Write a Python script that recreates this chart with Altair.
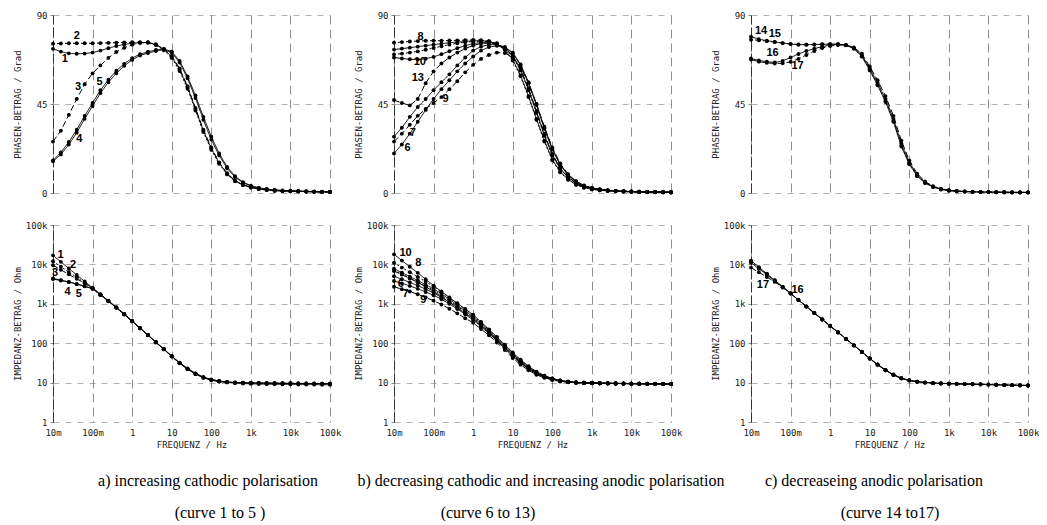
import altair as alt
import pandas as pd

FREQ = [0.01, 0.0158, 0.0251, 0.0398, 0.0631,
        0.1, 0.158, 0.251, 0.398, 0.631,
        1, 1.58, 2.51, 3.98, 6.31,
        10, 15.8, 25.1, 39.8, 63.1,
        100, 158, 251, 398, 631,
        1000, 1580, 2510, 3980, 6310,
        10000, 15800, 25100, 39800, 63100,
        100000]

# ---------- phase (degrees) ----------
PHASE_1 = [72.9, 71.5, 70.6, 70.4, 70.5, 71.0, 72.0, 73.2, 74.3, 75.1, 75.7, 76.0, 76.1, 75.0, 72.6,
           69.0, 62.5, 53.5, 42.5, 31.5, 22.5, 15.2, 9.7, 6.1, 4.1, 2.8, 2.0, 1.5, 1.2, 1.0,
           0.9, 0.8, 0.7, 0.6, 0.5, 0.5]
PHASE_2 = [75.5, 75.6, 75.7, 75.7, 75.7, 75.7, 75.8, 75.9, 76.0, 76.1, 76.2, 76.2, 76.0, 74.8, 72.2,
           68.3, 61.7, 52.7, 41.7, 30.8, 21.8, 14.8, 9.4, 5.9, 4.0, 2.8, 2.0, 1.5, 1.2, 1.0,
           0.9, 0.8, 0.7, 0.6, 0.5, 0.5]
PHASE_3 = [26.0, 31.5, 39.5, 47.5, 55.0, 60.5, 64.5, 68.3, 71.3, 73.4, 75.0, 75.9, 76.2, 75.2, 72.8,
           69.3, 63.0, 54.0, 43.0, 32.0, 23.0, 15.5, 10.0, 6.3, 4.2, 2.9, 2.1, 1.6, 1.2, 1.0,
           0.9, 0.8, 0.7, 0.6, 0.5, 0.5]
PHASE_4 = [16.0, 19.5, 24.5, 30.5, 37.5, 44.0, 50.5, 56.0, 60.5, 64.3, 67.3, 69.5, 70.8, 71.8, 72.5,
           71.0, 66.0, 58.0, 48.0, 37.0, 27.0, 19.0, 12.5, 8.0, 5.2, 3.5, 2.5, 1.9, 1.5, 1.2,
           1.0, 0.9, 0.8, 0.7, 0.6, 0.5]
PHASE_5 = [16.5, 20.5, 25.8, 32.0, 39.0, 45.5, 52.0, 57.3, 61.8, 65.3, 68.2, 70.2, 71.4, 72.3, 72.8,
           71.5, 66.8, 59.0, 49.3, 38.5, 28.5, 20.0, 13.2, 8.5, 5.5, 3.7, 2.6, 2.0, 1.6, 1.3,
           1.1, 1.0, 0.9, 0.8, 0.7, 0.6]
PHASE_6 = [20.0, 24.5, 30.0, 36.0, 42.0, 47.5, 52.5, 57.0, 61.5, 65.5, 69.0, 72.0, 73.8, 74.4, 73.5,
           70.7, 64.5, 55.5, 44.5, 32.5, 22.0, 14.2, 9.0, 5.7, 3.6, 2.45, 1.8, 1.35, 1.1, 0.9,
           0.75, 0.65, 0.55, 0.5, 0.45, 0.4]
PHASE_7 = [28.5, 33.0, 38.5, 43.5, 47.5, 52.0, 56.0, 60.0, 64.5, 68.5, 72.0, 74.0, 75.0, 75.0, 73.8,
           71.0, 65.0, 56.0, 45.0, 33.0, 22.5, 14.5, 9.2, 5.8, 3.7, 2.5, 1.8, 1.35, 1.1, 0.9,
           0.75, 0.65, 0.55, 0.5, 0.45, 0.4]
PHASE_8 = [76.0, 76.3, 76.6, 76.8, 77.0, 77.0, 77.0, 77.1, 77.2, 77.3, 77.4, 77.3, 76.8, 75.5, 72.5,
           67.0, 59.0, 48.5, 37.0, 26.0, 16.5, 10.5, 6.7, 4.2, 2.7, 1.9, 1.4, 1.1, 0.9, 0.7,
           0.6, 0.5, 0.45, 0.4, 0.35, 0.3]
PHASE_9 = [26.0, 30.0, 34.5, 39.0, 42.5, 45.5, 48.5, 52.5, 56.5, 61.0, 64.8, 67.8, 69.8, 71.0, 70.8,
           68.5, 63.5, 55.5, 45.0, 33.5, 23.0, 15.0, 9.5, 6.0, 3.8, 2.6, 1.9, 1.4, 1.1, 0.9,
           0.75, 0.65, 0.55, 0.5, 0.45, 0.4]
PHASE_10 = [68.5, 68.0, 67.6, 67.5, 67.9, 68.8, 70.2, 71.7, 73.2, 74.5, 75.5, 76.1, 76.1, 75.4, 73.2,
            69.2, 62.3, 52.3, 40.8, 29.3, 19.2, 12.4, 7.9, 5.0, 3.2, 2.2, 1.6, 1.2, 1.0, 0.8,
            0.7, 0.6, 0.5, 0.45, 0.4, 0.35]
PHASE_11 = [72.5, 73.0, 73.5, 74.0, 74.5, 75.0, 75.5, 76.0, 76.3, 76.6, 76.9, 77.0, 76.6, 75.3, 72.5,
            67.5, 59.5, 49.0, 37.5, 26.5, 17.0, 10.8, 6.9, 4.3, 2.8, 1.9, 1.4, 1.1, 0.9, 0.7,
            0.6, 0.5, 0.45, 0.4, 0.35, 0.3]
PHASE_12 = [70.0, 70.5, 71.0, 71.6, 72.4, 73.3, 74.2, 75.0, 75.7, 76.2, 76.6, 76.8, 76.6, 75.7, 73.2,
            69.0, 62.0, 52.0, 40.5, 29.0, 19.0, 12.3, 7.8, 4.9, 3.2, 2.2, 1.6, 1.2, 1.0, 0.8,
            0.7, 0.6, 0.5, 0.45, 0.4, 0.35]
PHASE_13 = [47.0, 45.5, 44.3, 47.5, 55.5, 61.5, 65.5, 68.5, 71.0, 73.0, 74.6, 75.6, 75.8, 75.2, 73.3,
            69.5, 62.8, 53.0, 41.5, 30.0, 19.8, 12.8, 8.1, 5.1, 3.3, 2.2, 1.6, 1.2, 1.0, 0.8,
            0.7, 0.6, 0.5, 0.45, 0.4, 0.35]
PHASE_14 = [79.0, 77.8, 77.0, 76.4, 75.8, 75.3, 75.0, 75.0, 75.1, 75.2, 75.3, 75.3, 74.8, 73.0, 69.0,
            62.0, 54.5, 46.0, 36.0, 23.5, 14.5, 8.5, 5.0, 3.0, 1.8, 1.2, 0.9, 0.7, 0.6, 0.5,
            0.45, 0.4, 0.35, 0.3, 0.3, 0.3]
PHASE_15 = [77.5, 77.2, 76.8, 76.3, 75.8, 75.4, 75.1, 75.0, 75.0, 75.1, 75.2, 75.2, 74.7, 73.0, 69.2,
            62.5, 55.0, 46.5, 36.5, 24.0, 15.0, 8.8, 5.2, 3.1, 1.9, 1.25, 0.9, 0.7, 0.6, 0.5,
            0.45, 0.4, 0.35, 0.3, 0.3, 0.3]
PHASE_16 = [68.0, 67.0, 66.4, 66.0, 66.8, 68.5, 70.3, 71.8, 73.0, 74.0, 74.8, 75.1, 74.8, 73.3, 69.8,
            63.0, 55.8, 47.5, 37.5, 25.0, 15.5, 9.2, 5.4, 3.2, 2.0, 1.3, 0.95, 0.75, 0.6, 0.5,
            0.45, 0.4, 0.35, 0.3, 0.3, 0.3]
PHASE_17 = [67.5, 66.4, 65.8, 65.5, 65.6, 66.3, 67.8, 69.8, 71.8, 73.3, 74.3, 74.8, 74.8, 73.6, 70.5,
            64.0, 57.0, 49.0, 39.0, 26.5, 16.5, 9.8, 5.8, 3.4, 2.1, 1.4, 1.0, 0.8, 0.65, 0.55,
            0.5, 0.45, 0.4, 0.35, 0.3, 0.3]

# ---------- impedance magnitude (Ohm) ----------
Z_1 = [17000, 11600, 7900, 5400, 3700, 2550, 1750, 1200, 820, 555, 370, 245, 163, 107, 71,
       47, 31.5, 22.3, 16.7, 13.4, 11.6, 10.6, 10.1, 9.7, 9.5, 9.3, 9.2, 9.1, 9.05, 9.0,
       9.0, 8.95, 8.9, 8.9, 8.85, 8.8]
Z_2 = [12000, 8800, 6400, 4700, 3420, 2500, 1720, 1180, 810, 545, 362, 242, 161, 106, 70.5,
       46.3, 31.2, 22.1, 16.6, 13.4, 11.7, 10.8, 10.3, 10.0, 9.9, 9.8, 9.75, 9.7, 9.65, 9.6,
       9.6, 9.55, 9.5, 9.5, 9.45, 9.4]
Z_3 = [9500, 7300, 5600, 4300, 3300, 2500, 1700, 1170, 800, 540, 360, 240, 160, 105, 70,
       46, 31, 22, 16.5, 13.3, 11.6, 10.7, 10.2, 9.9, 9.8, 9.7, 9.65, 9.6, 9.55, 9.5,
       9.5, 9.45, 9.4, 9.4, 9.35, 9.3]
Z_4 = [4400, 4000, 3600, 3200, 2800, 2400, 1680, 1160, 790, 535, 357, 238, 159, 105, 70,
       46.5, 31.5, 22.5, 17.0, 13.7, 11.9, 10.9, 10.3, 10.0, 9.85, 9.75, 9.7, 9.65, 9.6, 9.55,
       9.5, 9.5, 9.45, 9.4, 9.4, 9.35]
Z_5 = [4250, 3900, 3550, 3150, 2780, 2420, 1690, 1170, 800, 540, 360, 240, 160, 106, 71,
       47, 32, 23, 17.2, 13.8, 12.0, 11.0, 10.4, 10.05, 9.9, 9.8, 9.75, 9.7, 9.65, 9.6,
       9.55, 9.5, 9.5, 9.45, 9.4, 9.4]
Z_6 = [5000, 4200, 3500, 2900, 2350, 1900, 1450, 1100, 800, 580, 420, 285, 190, 123, 78,
       49, 32.5, 23, 17.3, 14, 12.2, 11, 10.4, 10, 9.85, 9.7, 9.6, 9.55, 9.5, 9.45,
       9.4, 9.35, 9.3, 9.3, 9.25, 9.2]
Z_7 = [3800, 3300, 2850, 2400, 2000, 1650, 1300, 1000, 740, 540, 390, 265, 176, 114, 73,
       46, 31, 22, 16.8, 13.7, 12.0, 10.9, 10.3, 9.95, 9.8, 9.7, 9.6, 9.55, 9.5, 9.45,
       9.4, 9.35, 9.3, 9.3, 9.25, 9.2]
Z_8 = [11000, 8300, 6300, 4800, 3650, 2750, 2000, 1420, 1010, 720, 510, 335, 218, 140, 89,
       56, 37, 25.5, 18.7, 14.8, 12.7, 11.3, 10.5, 10.1, 9.9, 9.75, 9.65, 9.6, 9.55, 9.5,
       9.45, 9.4, 9.35, 9.3, 9.3, 9.25]
Z_9 = [2700, 2350, 2050, 1750, 1450, 1200, 960, 750, 570, 430, 330, 230, 158, 104, 67,
       42, 28.5, 20.5, 15.8, 13.2, 11.7, 10.7, 10.2, 9.9, 9.75, 9.65, 9.6, 9.55, 9.5, 9.45,
       9.4, 9.35, 9.3, 9.3, 9.25, 9.2]
Z_10 = [18000, 12500, 8700, 6100, 4200, 2900, 2050, 1450, 1030, 740, 530, 345, 225, 145, 92,
        58, 38, 26, 19, 15, 12.8, 11.4, 10.6, 10.2, 10.0, 9.8, 9.7, 9.6, 9.55, 9.5,
        9.45, 9.4, 9.4, 9.35, 9.3, 9.3]
Z_11 = [7800, 6200, 4900, 3900, 3050, 2400, 1800, 1300, 930, 660, 470, 310, 205, 132, 84,
        53, 35, 24.5, 18.2, 14.5, 12.5, 11.2, 10.5, 10.1, 9.9, 9.75, 9.65, 9.6, 9.55, 9.5,
        9.45, 9.4, 9.35, 9.3, 9.3, 9.25]
Z_12 = [7200, 5700, 4500, 3550, 2800, 2200, 1650, 1200, 870, 620, 440, 295, 195, 126, 80,
        50, 33.5, 23.5, 17.7, 14.2, 12.3, 11.1, 10.4, 10.0, 9.85, 9.7, 9.6, 9.55, 9.5, 9.45,
        9.4, 9.35, 9.3, 9.3, 9.25, 9.2]
Z_13 = [6800, 5500, 4400, 3500, 2700, 2050, 1520, 1100, 800, 575, 410, 275, 182, 118, 76,
        48, 32, 22.8, 17.3, 14.0, 12.2, 11.0, 10.4, 10.0, 9.85, 9.7, 9.6, 9.55, 9.5, 9.45,
        9.4, 9.35, 9.3, 9.3, 9.25, 9.2]
Z_14 = [12500, 8500, 5800, 3950, 2700, 1850, 1260, 860, 590, 405, 278, 190, 130, 89, 61,
        41.5, 29, 21, 16, 13, 11.5, 10.6, 10.1, 9.8, 9.6, 9.45, 9.35, 9.25, 9.15, 9.05,
        8.95, 8.85, 8.75, 8.65, 8.55, 8.5]
Z_15 = [12000, 8300, 5700, 3900, 2680, 1840, 1250, 855, 585, 400, 276, 189, 129, 88, 60.5,
        41, 28.7, 20.8, 15.9, 12.9, 11.4, 10.5, 10.0, 9.7, 9.55, 9.4, 9.3, 9.2, 9.1, 9.0,
        8.9, 8.8, 8.7, 8.6, 8.5, 8.45]
Z_16 = [11000, 7800, 5450, 3800, 2620, 1820, 1240, 850, 582, 400, 275, 188, 128, 88, 60,
        41, 28.5, 20.6, 15.7, 12.8, 11.3, 10.5, 10.0, 9.7, 9.5, 9.4, 9.3, 9.2, 9.1, 9.0,
        8.9, 8.8, 8.7, 8.6, 8.5, 8.45]
Z_17 = [8300, 6300, 4800, 3600, 2600, 1820, 1240, 850, 580, 398, 273, 187, 127, 87, 59.5,
        40.5, 28.3, 20.5, 15.6, 12.8, 11.3, 10.5, 10.0, 9.7, 9.5, 9.4, 9.3, 9.2, 9.1, 9.0,
        8.9, 8.8, 8.7, 8.6, 8.5, 8.45]

# curve id, panel, line style
CURVE_IDS = ["1", "2", "3", "4", "5", "6", "7", "8", "9", "10", "11", "12", "13", "14", "15", "16", "17"]
CURVE_PANEL = ["a", "a", "a", "a", "a", "b", "b", "b", "b", "b", "b", "b", "b", "c", "c", "c", "c"]
CURVE_STYLE = ["solid", "dot", "dash", "solid", "solid", "solid", "solid", "dot", "dash", "solid",
               "solid", "dot", "dash", "solid", "dot", "solid", "dash"]
PHASES = [PHASE_1, PHASE_2, PHASE_3, PHASE_4, PHASE_5, PHASE_6, PHASE_7, PHASE_8, PHASE_9,
          PHASE_10, PHASE_11, PHASE_12, PHASE_13, PHASE_14, PHASE_15, PHASE_16, PHASE_17]
IMPS = [Z_1, Z_2, Z_3, Z_4, Z_5, Z_6, Z_7, Z_8, Z_9, Z_10, Z_11, Z_12, Z_13, Z_14, Z_15, Z_16, Z_17]

# curve-number annotations: panel, kind, text, freq, value
LABEL_PANEL = ["a", "a", "a", "a", "a", "a", "a", "a", "a", "a",
               "b", "b", "b", "b", "b", "b", "b", "b", "b", "b", "b",
               "c", "c", "c", "c", "c", "c"]
LABEL_KIND = ["phase", "phase", "phase", "phase", "phase", "imp", "imp", "imp", "imp", "imp",
              "phase", "phase", "phase", "phase", "phase", "phase", "imp", "imp", "imp", "imp", "imp",
              "phase", "phase", "phase", "phase", "imp", "imp"]
LABEL_TEXT = ["1", "2", "3", "4", "5", "1", "2", "3", "4", "5",
              "8", "10", "13", "9", "7", "6", "10", "8", "6", "7", "9",
              "14", "15", "16", "17", "17", "16"]
LABEL_FREQ = [0.02, 0.04, 0.043, 0.046, 0.15, 0.0155, 0.032, 0.0113, 0.0235, 0.045,
              0.047, 0.045, 0.04, 0.2, 0.03, 0.022, 0.0196, 0.041, 0.0148, 0.0196, 0.055,
              0.018, 0.04, 0.035, 0.15, 0.02, 0.15]
LABEL_VALUE = [67.7, 79.6, 53.6, 27.5, 56, 17800, 9400, 5900, 2000, 1800,
               79, 66.2, 58, 47.6, 30.4, 22.8, 19000, 10700, 3150, 1800, 1260,
               81.7, 80.3, 70.7, 64, 3000, 2300]

CAPTION_COL = ["a", "b", "c"]
CAPTION_HEAD = ["a) increasing cathodic polarisation",
                "b) decreasing cathodic and increasing anodic polarisation",
                "c) decreaseing anodic polarisation"]
CAPTION_SUB = ["(curve 1 to 5 )", "(curve 6 to 13)", "(curve 14 to17)"]

DECADES = [0.01, 0.1, 1, 10, 100, 1000, 10000, 100000]

rows = []
for cid, pan, sty, ph, zz in zip(CURVE_IDS, CURVE_PANEL, CURVE_STYLE, PHASES, IMPS):
    for f, p, z in zip(FREQ, ph, zz):
        rows.append({"panel": pan, "curve": cid, "style": sty, "kind": "phase", "freq": f, "value": p})
        rows.append({"panel": pan, "curve": cid, "style": sty, "kind": "imp", "freq": f, "value": z})
df = pd.DataFrame(rows)
lab_df = pd.DataFrame({"panel": LABEL_PANEL, "kind": LABEL_KIND, "label": LABEL_TEXT,
                       "freq": LABEL_FREQ, "value": LABEL_VALUE})
head_df = pd.DataFrame({"col": CAPTION_COL, "line": "1", "text": CAPTION_HEAD})
sub_df = pd.DataFrame({"col": CAPTION_COL, "line": "2", "text": CAPTION_SUB})

FREQ_LABEL = ("datum.value < 1 ? round(datum.value * 1000) + 'm' : "
              "(datum.value >= 1000 ? round(datum.value / 1000) + 'k' : datum.value)")
IMP_LABEL = "datum.value >= 1000 ? round(datum.value / 1000) + 'k' : datum.value"

GRID_V = dict(grid=True, gridColor="#333333", gridDash=[9, 5], gridOpacity=0.55, gridWidth=1)
Y_COMMON = dict(grid=True, gridDash=[6, 6], gridColor="#555555", gridOpacity=0.45,
                tickSize=3, labelPadding=3, titlePadding=3, minExtent=28, maxExtent=28,
                domainColor="#333333", domainDash=[10, 3])
PW = 277


def panel_chart(panel, kind):
    if kind == "phase":
        xaxis = alt.Axis(values=DECADES, labels=False, ticks=False, domain=False, title=None,
                         minExtent=0, maxExtent=0, **GRID_V)
        yscale = alt.Scale(domain=[0, 90], nice=False)
        yaxis = alt.Axis(values=[0, 45, 90], title="PHASEN-BETRAG / Grad", **Y_COMMON)
        h = 178
    else:
        xaxis = alt.Axis(values=DECADES, labelExpr=FREQ_LABEL, ticks=False, domain=False,
                         title="FREQUENZ / Hz", labelPadding=6, titlePadding=3, labelFlush=False,
                         minExtent=15, maxExtent=15, **GRID_V)
        yscale = alt.Scale(type="log", domain=[1, 100000], nice=False)
        yaxis = alt.Axis(values=[1, 10, 100, 1000, 10000, 100000], labelExpr=IMP_LABEL,
                         title="IMPEDANZ-BETRAG / Ohm", **Y_COMMON)
        h = 197
    x = alt.X("freq:Q", scale=alt.Scale(type="log", domain=[0.01, 100000], nice=False), axis=xaxis)
    y = alt.Y("value:Q", scale=yscale, axis=yaxis)
    base = alt.Chart(df).transform_filter(
        (alt.datum.panel == panel) & (alt.datum.kind == kind)
    ).encode(x=x, y=y, detail="curve:N")
    line = base.mark_line(color="black", strokeWidth=1).encode(
        strokeDash=alt.StrokeDash("style:N", legend=None,
                                  scale=alt.Scale(domain=["solid", "dash", "dot"],
                                                  range=[[1, 0], [6, 3], [2, 2]])))
    pts = base.mark_circle(color="black", size=15, opacity=1)
    labels = alt.Chart(lab_df).transform_filter(
        (alt.datum.panel == panel) & (alt.datum.kind == kind)
    ).mark_text(font="Liberation Sans", fontSize=11, fontWeight="bold", color="black").encode(
        x=alt.X("freq:Q"), y=alt.Y("value:Q"), text="label:N")
    return alt.layer(line, pts, labels).properties(width=PW, height=h)


def column(panel):
    return alt.vconcat(panel_chart(panel, "phase"), panel_chart(panel, "imp"), spacing=23)


plots = alt.hconcat(alt.hconcat(column("a"), column("b"), spacing=13), column("c"), spacing=29)

CAP_Y = alt.Y("line:N", scale=alt.Scale(type="point", domain=["1", "2"], range=[14, 46], padding=0),
              axis=None)
head = alt.Chart(head_df).mark_text(font="Liberation Serif", fontSize=16, color="black").encode(
    x=alt.X("col:N", scale=alt.Scale(type="point", domain=["a", "b", "c"], range=[155, 821], padding=0),
            axis=None),
    y=CAP_Y, text="text:N")
# the second caption line sits on a finer grid of slots (the "(curve 6 to 13)" line is left of centre)
sub = alt.Chart(sub_df).mark_text(font="Liberation Serif", fontSize=16, color="black").encode(
    x=alt.X("col:N", scale=alt.Scale(type="point", domain=["a", "s1", "b", "s2", "s3", "c"],
                                     range=[167, 837], padding=0),
            axis=None),
    y=CAP_Y, text="text:N")
caption = alt.layer(head, sub).resolve_scale(x="independent").properties(width=960, height=47)

chart = alt.vconcat(plots, caption, spacing=18).properties(
    padding={"left": 13, "top": 11, "right": 0, "bottom": 0},
    background="white",
).configure_view(stroke=None).configure_axis(
    labelFont="DejaVu Sans Mono", titleFont="DejaVu Sans Mono", labelFontSize=9,
    titleFontSize=9, titleFontWeight="normal", labelColor="#222222", titleColor="#222222",
)

chart.save("out.html", embed_options={"renderer": "svg", "actions": False})
